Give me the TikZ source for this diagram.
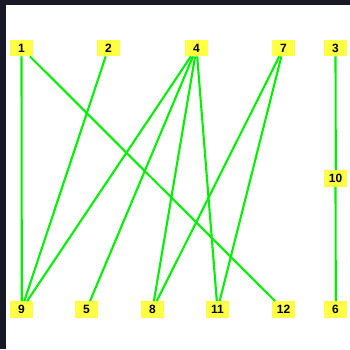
\documentclass[tikz,border=0pt]{standalone}
\usepackage{fontspec}
\setmainfont{Liberation Sans}
\definecolor{nodey}{HTML}{FFFF44}
\definecolor{edgeg}{HTML}{00F000}
\definecolor{frame}{HTML}{181826}
\begin{document}
\begin{tikzpicture}[x=1pt,y=1pt,
  vbox/.style={fill=nodey, draw=none, minimum width=23pt, minimum height=16.5pt, inner sep=0pt,
    font=\fontsize{12}{12}\selectfont\bfseries, text=black},
  edge/.style={draw=edgeg, line width=2.1pt}]
\useasboundingbox (0,0) rectangle (350,349);
\fill[white] (0,0) rectangle (350,349);
\fill[frame] (0,0) rectangle (6,349);
\fill[frame] (0,344) rectangle (350,349);
% top row
\node[vbox] (n1) at (21.5,301) {1};
\node[vbox] (n2) at (108.5,301) {2};
\node[vbox] (n4) at (196.5,301) {4};
\node[vbox] (n7) at (283.5,301) {7};
\node[vbox] (n3) at (335.5,301) {3};
% middle
\node[vbox] (n10) at (335.5,170.5) {10};
% bottom row
\node[vbox] (n9) at (21.5,39.5) {9};
\node[vbox] (n5) at (86.5,39.5) {5};
\node[vbox] (n8) at (152.5,39.5) {8};
\node[vbox] (n11) at (217.5,39.5) {11};
\node[vbox] (n12) at (283.5,39.5) {12};
\node[vbox] (n6) at (335.5,39.5) {6};
% edges
\draw[edge] (n1.south) -- ([xshift=0.3pt]n9.north);
\draw[edge] (n1) -- (n12);
\draw[edge] (n2) -- (n9);
\draw[edge] (n4) -- (n9);
\draw[edge] (n4) -- (n5);
\draw[edge] (n4) -- (n8);
\draw[edge] (n4) -- (n11);
\draw[edge] (n7) -- (n8);
\draw[edge] (n7) -- (n11);
\draw[edge] (n3.south) -- ([xshift=0.3pt]n10.north);
\draw[edge] (n10.south) -- ([xshift=0.3pt]n6.north);
\end{tikzpicture}
\end{document}
